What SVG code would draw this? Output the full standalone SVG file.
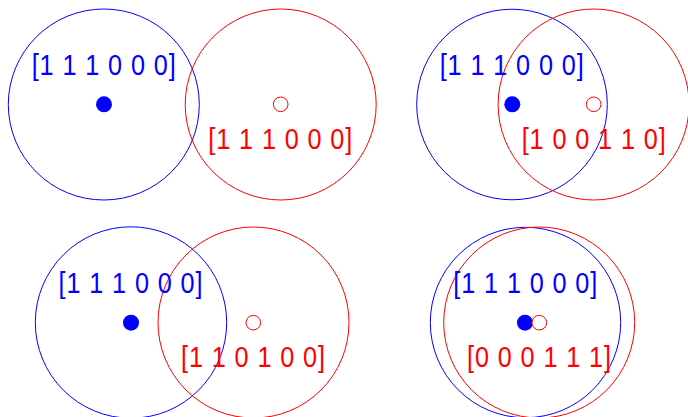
<svg xmlns="http://www.w3.org/2000/svg" width="688" height="417" viewBox="0 0 688 417">
<style>
.bc{fill:none;stroke:#0000ff;stroke-width:1}
.rc{fill:none;stroke:#ff0000;stroke-width:1}
.bd{fill:#0000ff}
.rd{fill:#fff;stroke:#ff0000;stroke-width:1}
text{font-family:"Liberation Sans",Arial,sans-serif;font-size:29px;text-anchor:middle}
.bt{fill:#0000ff}
.rt{fill:#ff0000}
</style>
<rect width="688" height="417" fill="#fff"/>
<g id="panel1">
<circle class="bc" cx="103.8" cy="104.5" r="95.5"/>
<circle class="rc" cx="280.7" cy="104.5" r="95.5"/>
<circle class="bd" cx="104" cy="104.3" r="8"/>
<circle class="rd" cx="280.7" cy="104.3" r="7.3"/>
<text class="bt" transform="translate(103.7,75) scale(0.87,1)" textLength="165.5" lengthAdjust="spacing">[1 1 1 0 0 0]</text>
<text class="rt" transform="translate(280.3,149) scale(0.87,1)" textLength="165.5" lengthAdjust="spacing">[1 1 1 0 0 0]</text>
</g>
<g id="panel2">
<circle class="bc" cx="512" cy="104.5" r="95.3"/>
<circle class="rc" cx="593.6" cy="104.5" r="95.5"/>
<circle class="bd" cx="512.3" cy="104.3" r="8"/>
<circle class="rd" cx="593.7" cy="104.3" r="7.3"/>
<text class="bt" transform="translate(511.7,75) scale(0.87,1)" textLength="165.5" lengthAdjust="spacing">[1 1 1 0 0 0]</text>
<text class="rt" transform="translate(593.7,149) scale(0.87,1)" textLength="165.5" lengthAdjust="spacing">[1 0 0 1 1 0]</text>
</g>
<g id="panel3">
<circle class="bc" cx="131" cy="322.5" r="95.7"/>
<circle class="rc" cx="253.5" cy="322.5" r="95.5"/>
<circle class="bd" cx="131" cy="322.7" r="8"/>
<circle class="rd" cx="253.3" cy="322.7" r="7.3"/>
<text class="bt" transform="translate(130.5,292.7) scale(0.87,1)" textLength="165.5" lengthAdjust="spacing">[1 1 1 0 0 0]</text>
<text class="rt" transform="translate(253,366.7) scale(0.87,1)" textLength="165.5" lengthAdjust="spacing">[1 1 0 1 0 0]</text>
</g>
<g id="panel4">
<circle class="bc" cx="525.5" cy="322.5" r="95.2"/>
<circle class="rc" cx="539.2" cy="322.5" r="95.5"/>
<circle class="bd" cx="525" cy="322.7" r="8"/>
<circle class="rd" cx="539.3" cy="322.7" r="7.3"/>
<text class="bt" transform="translate(525.3,292.7) scale(0.87,1)" textLength="165.5" lengthAdjust="spacing">[1 1 1 0 0 0]</text>
<text class="rt" transform="translate(539,366.7) scale(0.87,1)" textLength="165.5" lengthAdjust="spacing">[0 0 0 1 1 1]</text>
</g>
</svg>
